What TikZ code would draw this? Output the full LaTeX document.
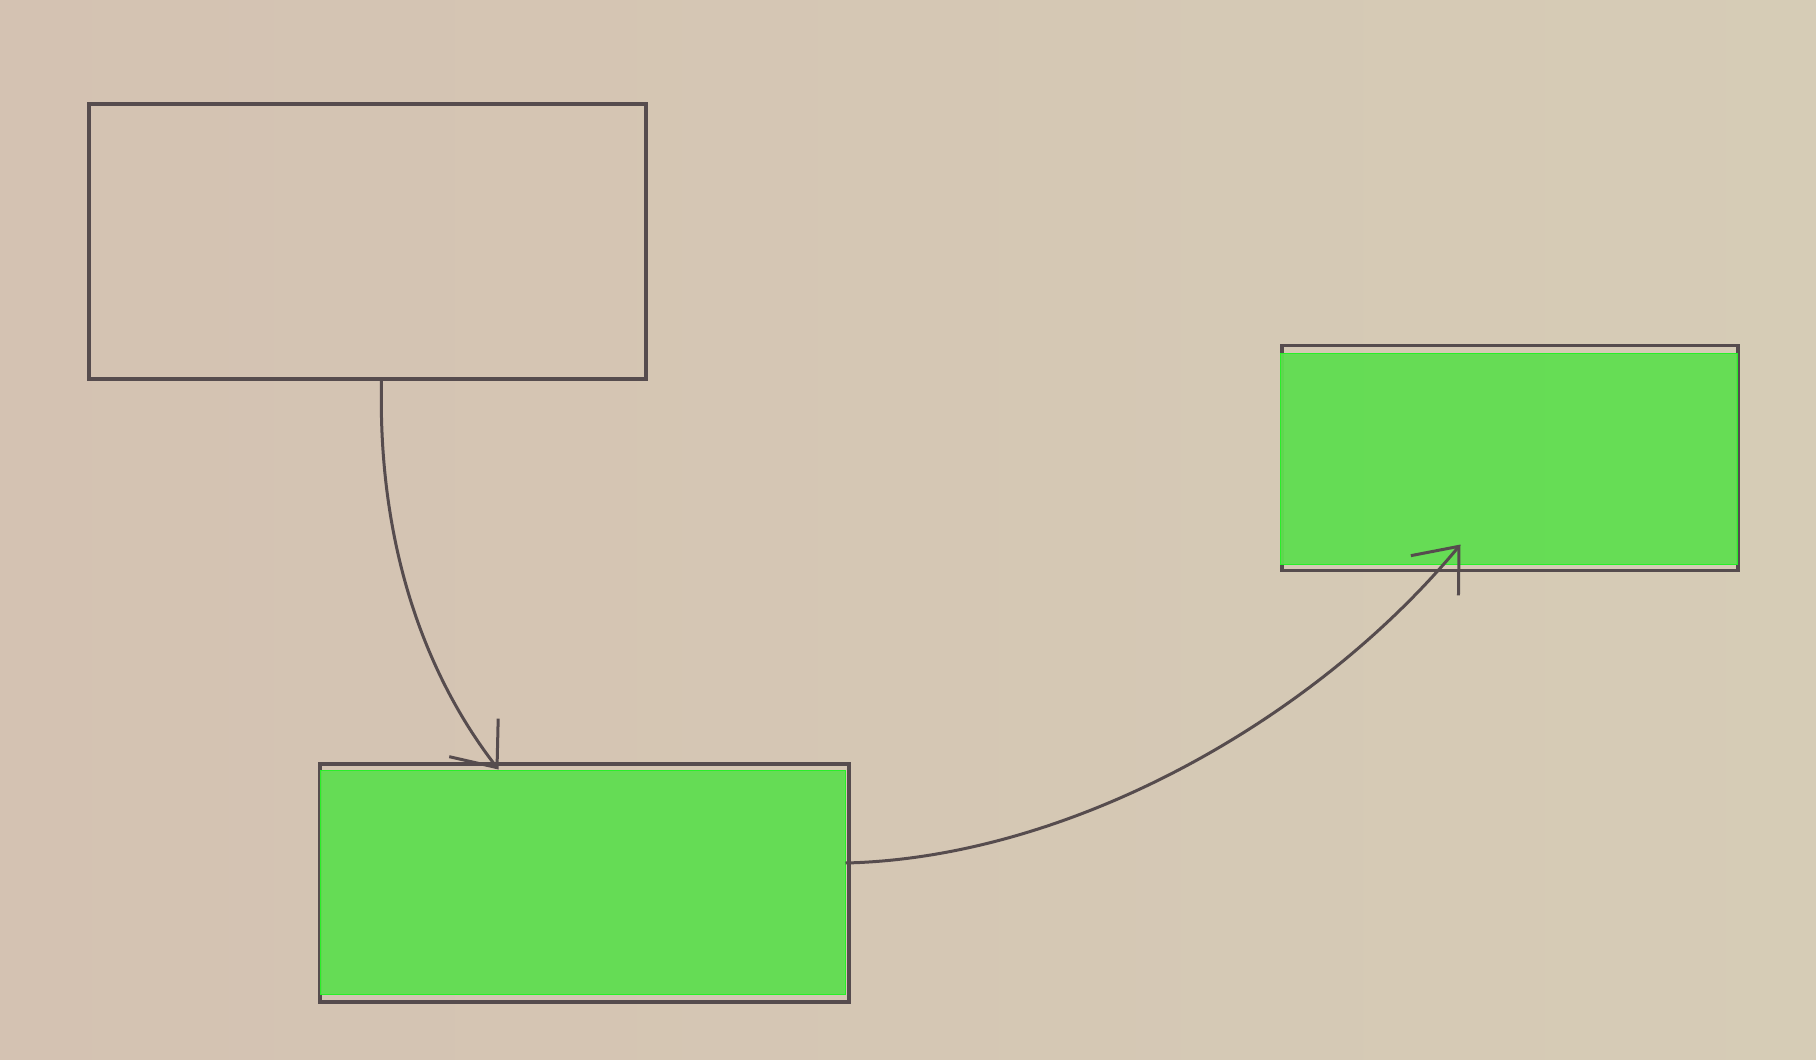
\documentclass[tikz,border=0pt]{standalone}
\usetikzlibrary{arrows.meta,calc}
\definecolor{paperL}{RGB}{212,194,178}
\definecolor{paperR}{RGB}{214,204,182}
\definecolor{pen}{RGB}{86,76,78}
\definecolor{hl}{RGB}{96,222,80}
\definecolor{hlborder}{RGB}{40,240,40}
\tikzset{
  penbox/.style={draw=pen, line width=3.5pt, rectangle, inner sep=0pt},
  greenbox/.style={fill=hl, fill opacity=0.95, draw=hlborder, line width=1pt, rectangle, inner sep=0pt},
  penarrow/.style={draw=pen, line width=3pt, -{Straight Barb[length=38pt,width=62pt,line width=3pt]}}
}
\begin{document}
\begin{tikzpicture}[x=1pt,y=-1pt]
\useasboundingbox (0,0) rectangle (1816,1060);
\shade[left color=paperL, right color=paperR] (0,0) rectangle (1816,1060);
% top-left pen box
\node[penbox, minimum width=557pt, minimum height=275pt] (topbox) at (367.5,241.5) {};
% bottom pen box + highlight
\node[penbox, minimum width=529pt, minimum height=238pt] (botpen) at (584.5,883) {};
\node[greenbox, minimum width=525pt, minimum height=224pt] (botbox) at (582.5,882) {};
% right pen box + highlight
\node[penbox, minimum width=456pt, minimum height=225pt] (rightpen) at (1510,458) {};
\node[greenbox, minimum width=457pt, minimum height=211pt] (rightbox) at (1508.5,458.5) {};
% connectors
\coordinate (a1s) at ([xshift=14pt]topbox.south);
\coordinate (a1e) at ([xshift=-84pt]botbox.north);
\draw[penarrow] (a1s) .. controls ($(a1s)+(-4,170)$) and ($(a1e)+(-70,-90)$) .. (a1e);
\coordinate (a2s) at ([yshift=19pt]botbox.east);
\coordinate (a2e) at ([xshift=-48pt,yshift=20pt]rightbox.south);
\draw[penarrow] (a2s) .. controls ($(a2s)+(220,-5)$) and ($(a2e)+(-150,180)$) .. (a2e);
\end{tikzpicture}
\end{document}
